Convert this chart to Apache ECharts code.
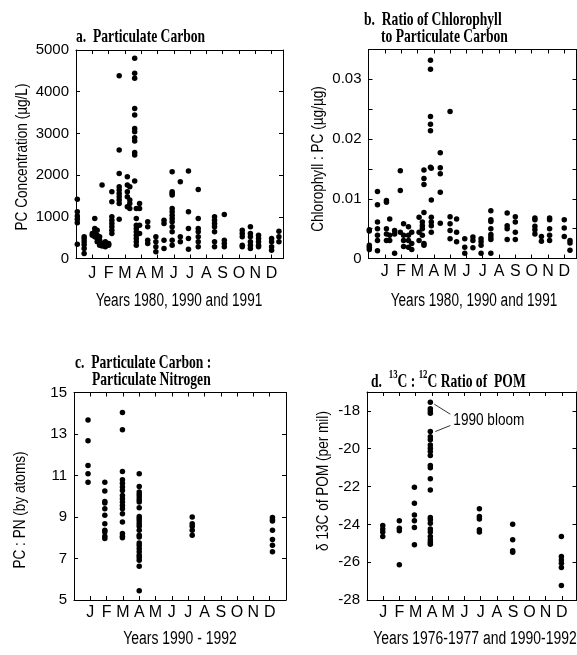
<!DOCTYPE html>
<html>
<head>
<meta charset="utf-8">
<script src="https://cdn.jsdelivr.net/npm/echarts@6/dist/echarts.min.js"></script>
<style>
  html, body { margin: 0; padding: 0; background: #fff; }
  #chart { width: 577px; height: 655px; }
</style>
</head>
<body>
<div id="chart"></div>
<script>
// Month letters shown under the month ticks (1 = January ... 12 = December)
const monthLetters = ['J', 'F', 'M', 'A', 'M', 'J', 'J', 'A', 'S', 'O', 'N', 'D'];

// a. Particulate carbon (µg/L): sampling position (month) and values found there
const pcMonths = [0.08, 0.5, 1.0, 1.15, 1.3, 1.45, 1.6, 1.8, 2.0, 2.2, 2.65, 3.15, 3.3, 3.6, 3.7, 3.9,
  4.4, 4.9, 5.4, 5.9, 6.4, 6.9, 7.5, 8.5, 9.1, 10.2, 10.7, 11.2, 12.0, 12.45];
const pcValues = [
  [1420, 1120, 1020, 940, 860, 340],
  [520, 470, 400, 330, 240, 120],
  [600, 560],
  [960, 720, 640, 580, 520],
  [680, 560, 480, 400],
  [520, 440, 320],
  [1760, 360, 300],
  [400, 320, 280],
  [340, 320, 360],
  [1600, 1360, 1000, 920, 840, 760, 680, 600],
  [4384, 2600, 2040, 1720, 1640, 1560, 1480, 1400, 1320, 944],
  [1960, 1760, 1600, 1480, 1240],
  [1720, 1400, 1320, 1200],
  [4800, 4440, 4320, 3600, 3440, 3120, 3040, 2896, 2816, 2544, 2480, 1856],
  [1200, 960, 800, 720, 640, 560, 480, 400, 320],
  [1320, 1200, 800, 600],
  [880, 760, 440, 360],
  [520, 400, 280, 160],
  [920, 840, 440, 240],
  [2080, 1600, 1560, 1520, 1200, 1120, 1040, 960, 880, 760, 640, 440, 320],
  [1840, 520, 400],
  [2096, 1120, 720, 480, 224],
  [1656, 960, 720, 640, 520, 400, 280],
  [1000, 920, 840, 760, 640, 400, 280],
  [1056, 440, 360, 280],
  [680, 600, 520, 320, 280],
  [760, 600, 520, 400, 320, 240],
  [560, 480, 400, 320, 280],
  [480, 400, 280, 200],
  [656, 520, 400]
];
const pcTicks = [0, 1000, 2000, 3000, 4000, 5000];

// b. Chlorophyll : PC ratio (µg/µg)
const chlMonths = [0.05, 0.55, 1.1, 1.3, 1.6, 1.95, 2.15, 2.45, 2.65, 3.1, 3.3, 3.4, 3.8, 3.85,
  4.4, 5.0, 5.4, 5.9, 6.4, 6.9, 7.5, 8.5, 9.0, 10.2, 10.6, 11.1, 12.0, 12.35];
const chlValues = [
  [0.0048, 0.0046, 0.0022, 0.0019, 0.0015],
  [0.0112, 0.0090, 0.0061, 0.0050, 0.0039, 0.0030, 0.0013],
  [0.0097, 0.0094, 0.0050, 0.0041, 0.0030],
  [0.0066, 0.0039, 0.0030],
  [0.0047, 0.0041, 0.0009],
  [0.0147, 0.0114, 0.0044],
  [0.0058, 0.0039, 0.0030, 0.0020],
  [0.0053, 0.0039, 0.0030, 0.0019],
  [0.0044, 0.0025, 0.0015],
  [0.0069, 0.0044, 0.0030],
  [0.0061, 0.0055, 0.0050, 0.0039],
  [0.0148, 0.0134, 0.0124, 0.0077, 0.0025, 0.0022],
  [0.0332, 0.0317, 0.0238, 0.0225, 0.0214, 0.0153],
  [0.0151, 0.0098, 0.0069, 0.0061, 0.0055, 0.0044],
  [0.0177, 0.0152, 0.0142, 0.0111, 0.0059],
  [0.0246, 0.0070, 0.0058, 0.0047, 0.0033],
  [0.0066, 0.0044, 0.0028],
  [0.0033, 0.0019, 0.0009],
  [0.0036, 0.0030, 0.0018],
  [0.0033, 0.0028, 0.0022, 0.0009],
  [0.0080, 0.0065, 0.0062, 0.0050, 0.0040, 0.0036, 0.0032, 0.0009],
  [0.0076, 0.0055, 0.0050, 0.0032],
  [0.0070, 0.0061, 0.0044, 0.0032],
  [0.0068, 0.0065, 0.0054, 0.0048, 0.0041],
  [0.0037, 0.0029],
  [0.0068, 0.0065, 0.0050, 0.0039, 0.0030],
  [0.0065, 0.0051, 0.0037],
  [0.0030, 0.0026, 0.0014]
];
const chlTicks = ['0', '0.01', '0.02', '0.03'];

// c. PC : PN atomic ratio
const cnMonths = [0.86, 1.89, 2.97, 4.0, 7.25, 12.17];
const cnValues = [
  [13.67, 12.68, 11.48, 11.08, 10.68],
  [10.68, 10.25, 9.75, 9.67, 9.4, 9.08, 8.68, 8.36, 8.28, 8.07, 7.96],
  [14.04, 13.21, 11.19, 10.79, 10.63, 10.44, 10.28, 10.04, 9.88, 9.72, 9.56, 9.4, 9.16, 8.76, 8.2, 8.07, 8.0],
  [11.08, 10.47, 10.2, 10.09, 9.96, 9.83, 9.72, 9.45, 9.03, 8.92, 8.81, 8.68, 8.55, 8.36, 8.12, 8.04,
    7.75, 7.64, 7.48, 7.32, 7.16, 7.05, 6.92, 6.63, 5.45],
  [9.0, 8.68, 8.55, 8.36, 8.12],
  [8.97, 8.87, 8.81, 8.36, 7.91, 7.64, 7.32]
];
const cnTicks = [5, 7, 9, 11, 13, 15];

// d. delta 13C of particulate organic matter (per mil)
const d13Months = [0.97, 1.99, 2.92, 3.9, 6.92, 8.97, 11.97];
const d13Values = [
  [-24.06, -24.24, -24.41, -24.64],
  [-23.81, -24.2, -24.34, -26.14],
  [-22.04, -22.88, -23.5, -23.81, -24.17, -25.08],
  [-17.54, -17.89, -18.0, -18.12, -19.09, -19.36, -19.53, -19.8, -19.97, -20.15, -20.36, -20.89, -21.0,
    -21.59, -22.18, -23.64, -23.76, -23.94, -24.24, -24.41, -24.64, -24.82, -24.94, -25.05],
  [-23.18, -23.59, -23.71, -24.29, -24.41],
  [-23.99, -24.82, -25.4, -25.47],
  [-24.64, -25.7, -25.88, -26.05, -26.28, -27.23]
];
const d13Ticks = [-28, -26, -24, -22, -20, -18];
const bloomLabel = '1990 bloom';

const SANS = '"Liberation Sans Narrow", "Arial Narrow", "Liberation Sans", sans-serif';
const SERIF = '"Liberation Serif", "DejaVu Serif", serif';
const INK = '#000';

function toPoints(months, values) {
  const out = [];
  months.forEach((m, i) => values[i].forEach(v => out.push([m, v])));
  return out;
}

const panels = [
  { grid: { left: 76, top: 50, width: 207, height: 208.5 }, xMax: 12.7,
    y: { min: 0, max: 5000, interval: 1000 }, yFmt: v => pcTicks.includes(v) ? String(v) : '',
    yName: 'PC Concentration (µg/L)', yNamePos: [22, 157],
    xName: 'Years 1980, 1990 and 1991', xNamePos: [179, 301], xScale: 0.8, xMargin: 7,
    data: toPoints(pcMonths, pcValues) },
  { grid: { left: 368.5, top: 49.5, width: 208, height: 209 }, xMax: 12.75,
    y: { min: 0, max: 0.035, interval: 0.005 },
    yFmt: v => { const s = String(Math.round(v * 1000) / 1000); return chlTicks.includes(s) ? s : ''; },
    yName: 'Chlorophyll : PC (µg/µg)', yNamePos: [318, 159],
    xName: 'Years 1980, 1990 and 1991', xNamePos: [474, 301], xScale: 0.8, xMargin: 5,
    data: toPoints(chlMonths, chlValues) },
  { grid: { left: 74, top: 392.5, width: 212, height: 207.5 }, xMax: 13,
    y: { min: 5, max: 15, interval: 2 }, yFmt: v => cnTicks.includes(v) ? String(v) : '',
    yName: 'PC : PN (by atoms)', yNamePos: [20, 510],
    xName: 'Years 1990 - 1992', xNamePos: [180, 639], xScale: 0.82, xMargin: 5,
    data: toPoints(cnMonths, cnValues) },
  { grid: { left: 367, top: 392, width: 209.5, height: 208 }, xMax: 12.9,
    y: { min: -28, max: -17, interval: 2 }, yFmt: v => d13Ticks.includes(v) ? String(v) : '',
    yName: 'δ 13C of POM (per mil)', yNamePos: [323, 481],
    xName: 'Years 1976-1977 and 1990-1992', xNamePos: [475, 639], xScale: 0.82, xMargin: 5,
    data: toPoints(d13Months, d13Values) }
];

const grid = [], xAxis = [], yAxis = [], series = [];
const lineStyle = { color: INK, width: 1 };
panels.forEach((p, g) => {
  grid.push(Object.assign({ containLabel: false }, p.grid));
  const xBase = { gridIndex: g, type: 'value', min: 0, max: p.xMax, interval: 1,
    splitLine: { show: false },
    axisLine: { show: true, onZero: false, lineStyle },
    axisTick: { show: true, inside: true, length: 4, lineStyle } };
  xAxis.push(Object.assign({}, xBase, { position: 'bottom',
    axisLabel: { show: true, margin: p.xMargin, color: INK, fontFamily: SANS, fontSize: 16,
      showMaxLabel: false, showMinLabel: false,
      formatter: v => (Number.isInteger(v) && v >= 1 && v <= 12) ? monthLetters[v - 1] : '' } }));
  xAxis.push(Object.assign({}, xBase, { position: 'top', axisLabel: { show: false } }));
  const yBase = { gridIndex: g, type: 'value', min: p.y.min, max: p.y.max, interval: p.y.interval,
    splitLine: { show: false },
    axisLine: { show: true, onZero: false, lineStyle },
    axisTick: { show: true, inside: true, length: 4, lineStyle } };
  yAxis.push(Object.assign({}, yBase, { position: 'left',
    axisLabel: { show: true, margin: 7, color: INK, fontFamily: SANS, fontSize: 15, formatter: p.yFmt } }));
  yAxis.push(Object.assign({}, yBase, { position: 'right', axisLabel: { show: false } }));
  series.push({ type: 'scatter', xAxisIndex: 2 * g, yAxisIndex: 2 * g, data: p.data,
    symbol: 'circle', symbolSize: 5.5, itemStyle: { color: INK, opacity: 1 }, silent: true, animation: false });
});

// Condensed text: a regular face squeezed horizontally
function squeezed(x, y, text, font, sx, sy, rotation, align) {
  return { type: 'text', x, y, scaleX: sx, scaleY: sy, rotation: rotation || 0, silent: true,
    style: { text, fill: INK, font, align: align || 'left', verticalAlign: 'middle' } };
}
const TITLE_FONT = 'bold 17px ' + SERIF;
const NAME_FONT = '17px ' + SANS;

const graphic = [
  squeezed(76, 37, 'a.  Particulate Carbon', TITLE_FONT, 0.8, 1.12),
  squeezed(364, 20, 'b.  Ratio of Chlorophyll', TITLE_FONT, 0.8, 1.12),
  squeezed(381, 37, 'to Particulate Carbon', TITLE_FONT, 0.8, 1.12),
  squeezed(75, 363, 'c.  Particulate Carbon :', TITLE_FONT, 0.8, 1.12),
  squeezed(92, 380, 'Particulate Nitrogen', TITLE_FONT, 0.8, 1.12),
  { type: 'text', x: 371, y: 380, scaleX: 0.8, scaleY: 1.12, silent: true,
    style: { text: '{t|d.  }{s|13}{t|C : }{s|12}{t|C Ratio of  POM}', fill: INK, align: 'left', verticalAlign: 'middle',
      rich: {
        t: { font: TITLE_FONT, fill: INK, lineHeight: 20, verticalAlign: 'bottom' },
        s: { font: 'bold 11px ' + SERIF, fill: INK, lineHeight: 20, verticalAlign: 'top' }
      } } }
];
panels.forEach(p => {
  graphic.push(squeezed(p.yNamePos[0], p.yNamePos[1], p.yName, NAME_FONT, 0.8, 1, Math.PI / 2, 'center'));
  graphic.push(squeezed(p.xNamePos[0], p.xNamePos[1], p.xName, NAME_FONT, p.xScale, 1.05, 0, 'center'));
});

const chart = echarts.init(document.getElementById('chart'), null, { renderer: 'canvas' });
chart.setOption({ animation: false, backgroundColor: '#fff', grid, xAxis, yAxis, series, graphic });

// "1990 bloom" call-out pointing at the top of the April column in panel d
const aprCol = d13Values[3];
const pTop = chart.convertToPixel({ xAxisIndex: 6, yAxisIndex: 6 }, [d13Months[3], aprCol[0]]);
const pMid = chart.convertToPixel({ xAxisIndex: 6, yAxisIndex: 6 }, [d13Months[3], aprCol[4]]);
graphic.push(
  { type: 'line', silent: true, shape: { x1: pTop[0] + 4, y1: pTop[1] + 2, x2: pTop[0] + 20, y2: pTop[1] + 12 },
    style: { stroke: INK, lineWidth: 0.8 } },
  { type: 'line', silent: true, shape: { x1: pMid[0] + 5, y1: pMid[1], x2: pMid[0] + 20, y2: pMid[1] - 6 },
    style: { stroke: INK, lineWidth: 0.8 } },
  squeezed(pTop[0] + 23, (pTop[1] + 12 + pMid[1] - 6) / 2, bloomLabel, NAME_FONT, 0.8, 1)
);
chart.setOption({ graphic });
</script>
</body>
</html>
